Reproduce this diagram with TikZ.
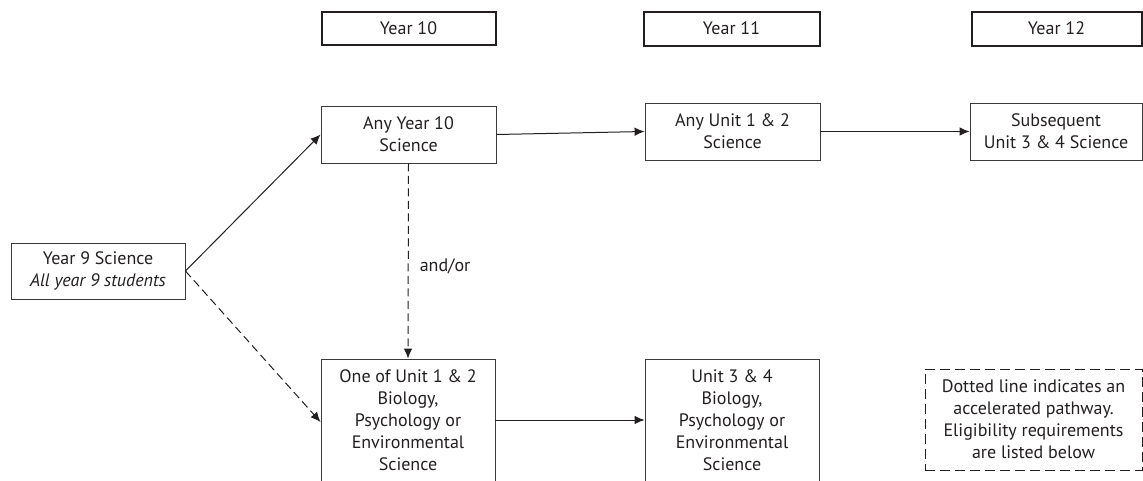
\documentclass[tikz,border=0pt]{standalone}
\usepackage{fontspec}
\setmainfont{PT Sans}
\usetikzlibrary{arrows.meta}
\definecolor{ink}{HTML}{231F20}
\definecolor{boxline}{HTML}{3A3A3A}
\begin{document}
\begin{tikzpicture}[x=1pt,y=-1pt,
  txt/.style={font=\fontsize{18}{22}\selectfont, text=ink, align=center, inner sep=0pt},
  stepbox/.style={txt, draw=boxline, line width=0.9pt, rectangle},
  hdrbox/.style={txt, draw=ink, line width=2pt, rectangle},
  legendbox/.style={txt, draw=ink, line width=0.8pt, dash pattern=on 10pt off 5pt},
  arr/.style={draw=ink, line width=1pt, -{Latex[length=10pt,width=8.5pt]}},
  darr/.style={arr, dash pattern=on 8pt off 4.5pt}
]
\useasboundingbox (0,0) rectangle (1143,480);
% headers
\node[hdrbox, minimum width=174pt, minimum height=33pt] (h10) at (408.5,28) {Year 10};
\node[hdrbox, minimum width=176pt, minimum height=34pt] (h11) at (731.5,28.5) {Year 11};
\node[hdrbox, minimum width=170pt, minimum height=34pt] (h12) at (1056.5,28.5) {Year 12};
% top row
\node[stepbox, minimum width=175pt, minimum height=57pt] (any10) at (408.5,134.5) {Any Year 10\\Science};
\node[stepbox, minimum width=175pt, minimum height=57pt] (any12) at (732.5,131.5) {Any Unit 1 \& 2\\Science};
\node[stepbox, minimum width=172pt, minimum height=57pt] (subs) at (1056,131.5) {Subsequent\\Unit 3 \& 4 Science};
% year 9
\node[stepbox, minimum width=174pt, minimum height=56pt] (y9) at (98,271) {Year 9 Science\\\textit{All year 9 students}};
% bottom row
\node[stepbox, minimum width=174pt, minimum height=122pt] (oneof) at (408,420) {One of Unit 1 \& 2\\Biology,\\Psychology or\\Environmental\\Science};
\node[stepbox, minimum width=174pt, minimum height=122pt] (u34) at (732,420) {Unit 3 \& 4\\Biology,\\Psychology or\\Environmental\\Science};
% legend
\node[legendbox, minimum width=217pt, minimum height=101pt] (legend) at (1033.5,419.5) {Dotted line indicates an\\accelerated pathway.\\Eligibility requirements\\are listed below};
% connectors
\draw[arr] (y9.east) -- (any10.west);
\draw[darr] (y9.east) -- ([yshift=-2pt]oneof.west);
\draw[arr] (any10.east) -- (any12.west);
\draw[arr] (any12.east) -- (subs.west);
\draw[arr] (oneof.east) -- (u34.west);
\draw[darr] (any10.south) -- (oneof.north) node[txt, pos=0.5, anchor=west, xshift=11pt, yshift=-5pt] (andor) {and/or};
\end{tikzpicture}
\end{document}
